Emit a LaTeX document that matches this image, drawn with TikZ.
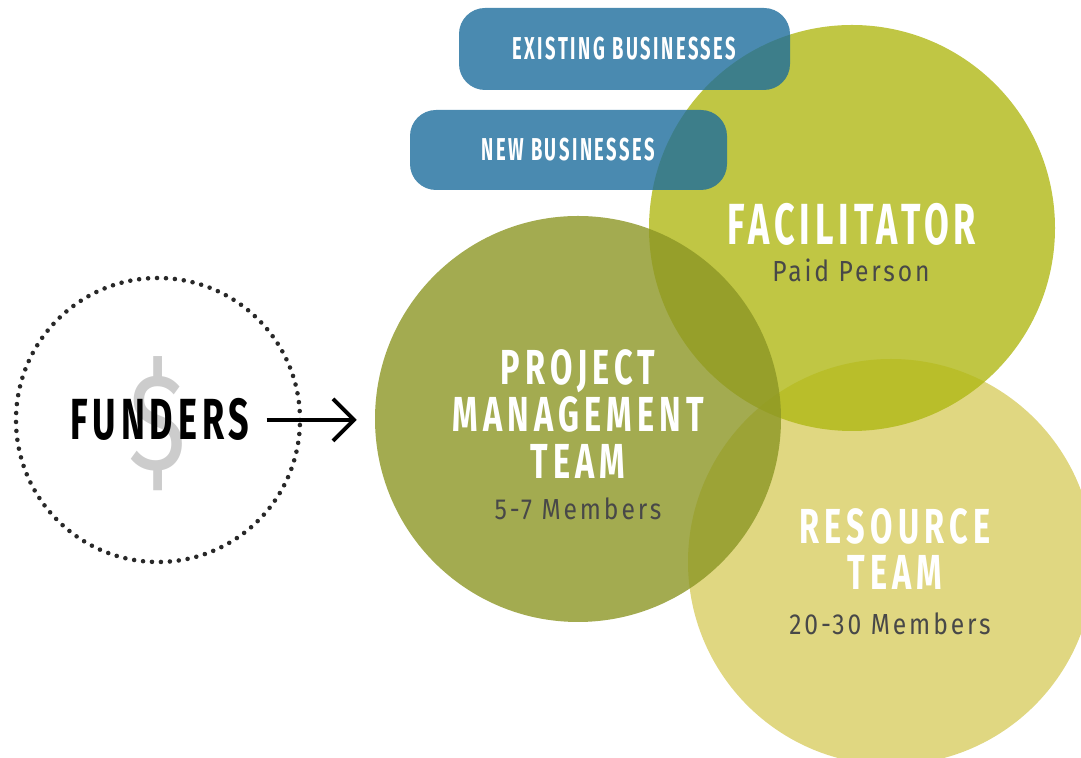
\documentclass[tikz,border=0pt]{standalone}
\usepackage{fontspec}
\setmainfont{Fira Sans}
\newfontfamily\headfont[FakeStretch=0.62,LetterSpace=8.5]{Fira Sans}
\newfontfamily\titlefont[FakeStretch=0.66,LetterSpace=10.5]{Fira Sans}
\newfontfamily\bizfont[FakeStretch=0.58,LetterSpace=8]{Fira Sans}
\newfontfamily\subfont[FakeStretch=0.85,LetterSpace=10]{Fira Sans}
\newfontfamily\dollarfont[FakeStretch=0.8]{Fira Sans}
\usepackage{tikz}
\usetikzlibrary{positioning}
\usetikzlibrary{arrows.meta}

\definecolor{pmgreen}{RGB}{140,150,36}
\definecolor{facgreen}{RGB}{176,184,21}
\definecolor{resyellow}{RGB}{216,205,98}
\definecolor{bizblue}{RGB}{29,109,156}
\definecolor{subgray}{RGB}{72,72,72}
\definecolor{dotgray}{RGB}{40,40,40}
\definecolor{dollargray}{RGB}{204,204,204}

\begin{document}
\begin{tikzpicture}[
    team/.style={circle, inner sep=0pt, minimum size=8.12cm, fill opacity=0.8},
    biz/.style={rounded corners=0.52cm, fill=bizblue, fill opacity=0.8, text opacity=1,
      text=white, font=\bizfont\bfseries\fontsize{18}{20}\selectfont},
    bigtitle/.style={text=white, font=\headfont\bfseries\fontsize{33}{36}\selectfont},
    title/.style={text=white, align=center, font=\titlefont\bfseries\fontsize{28}{26.7}\selectfont},
    subtitle/.style={text=subgray, anchor=base, font=\subfont\fontsize{16.5}{18}\selectfont},
    flow/.style={-{Straight Barb[length=0.42cm,width=0.84cm]}, line width=2.2pt}
  ]
    \useasboundingbox (0,0) rectangle (21.62,15.16);
    % funders
    \node[circle, inner sep=0pt, minimum size=5.68cm, draw=dotgray, line width=2.6pt,
      line cap=round, dash pattern=on 0pt off 5.1pt] (funders) at (3.16,6.76) {};
    \node[text=dollargray, font=\dollarfont\fontsize{78}{78}\selectfont] (dollar) at (3.16,6.68) {\$};
    \node[bigtitle, text=black, anchor=base] (funderslabel) at (3.2,6.36) {FUNDERS};
    % team circles
    \node[team, fill=resyellow] (resource) at (17.82,3.92) {};
    \node[team, fill=facgreen] (facilitator) at (17.04,10.6) {};
    \node[team, fill=pmgreen] (pm) at (11.56,6.78) {};
    % businesses
    \node[biz, minimum width=6.62cm, minimum height=1.64cm] (existing) at (12.49,14.18) {EXISTING BUSINESSES};
    \node[biz, minimum width=6.34cm, minimum height=1.6cm] (new) at (11.37,12.16) {NEW BUSINESSES};
    % labels
    \node[bigtitle, anchor=base] (faclabel) at (17.04,10.26) {FACILITATOR};
    \node[subtitle] (facsub) at (17.02,9.52) {Paid Person};
    \node[title] (pmlabel) at (11.56,6.88) {PROJECT\\MANAGEMENT\\TEAM};
    \node[subtitle] (pmsub) at (11.56,4.76) {5-7 Members};
    \node[title] (reslabel) at (17.9,4.18) {RESOURCE\\TEAM};
    \node[subtitle] (ressub) at (17.8,2.46) {20-30 Members};
    % arrow
    \draw[flow, shorten <=0.22cm, shorten >=0.36cm] (funderslabel.east) -- (funderslabel.east -| pm.west);
\end{tikzpicture}
\end{document}
